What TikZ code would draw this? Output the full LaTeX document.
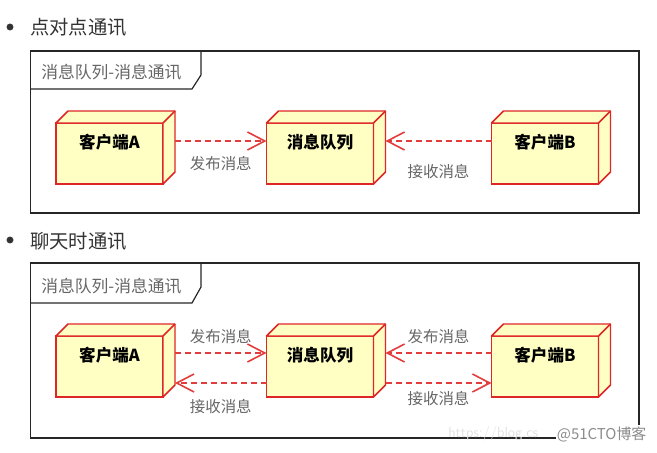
\documentclass[tikz,border=0pt]{standalone}
\usepackage{fontspec}
\newfontfamily\cjk{Noto Sans CJK SC}
\usetikzlibrary{arrows.meta,positioning,calc}
\definecolor{umlred}{RGB}{222,38,38}
\definecolor{umlyellow}{RGB}{255,255,196}
\definecolor{msgred}{RGB}{226,60,60}
\definecolor{msggray}{RGB}{102,102,102}
\definecolor{headgray}{RGB}{51,51,51}
\tikzset{
  nodebox/.style={draw=umlred, fill=umlyellow, line width=1.1pt, outer sep=0pt, inner sep=0pt,
    minimum width=80.25pt, minimum height=45.75pt, text height=7.5pt, text depth=15.5pt,
    font=\cjk\bfseries\fontsize{12.4}{14}\selectfont},
  msgarrow/.style={msgred, line width=1.2pt, dash pattern=on 4.5pt off 3pt,
    -{Straight Barb[length=13pt, width=13.5pt]}},
  msglabel/.style={font=\cjk\fontsize{11.6}{13}\selectfont, text=msggray, inner sep=0pt},
  heading/.style={font=\cjk\fontsize{14.5}{16}\selectfont, text=headgray, inner sep=0pt, anchor=west},
  bulletdot/.style={circle, fill=headgray, inner sep=0pt, minimum size=5.2pt},
  frameline/.style={draw=black!85, line width=0.9pt},
  tabtext/.style={font=\cjk\fontsize{12.6}{14}\selectfont, text=msggray, inner sep=0pt, anchor=west}
}
% back faces of a node box
\newcommand\nodedepth[1]{%
  \filldraw[draw=umlred, fill=umlyellow, line width=1.1pt, line join=round]
    (#1.north west) -- ++(12,-12) -- ([shift={(12,-12)}]#1.north east)
    -- ([shift={(12,-12)}]#1.south east) -- (#1.south east) -- (#1.north east) -- cycle;
  \draw[umlred, line width=1.1pt] (#1.north east) -- ++(12,-12);}

\begin{document}
\begin{tikzpicture}[x=0.75pt, y=-0.75pt]
  \useasboundingbox (0,0) rectangle (657,453);

  % Part 1: point to point
  \node[bulletdot] (d1) at (10,27) {};
  \node[heading] (h1) at (30,27) {点对点通讯};
  \draw[frameline] (30.5,51) rectangle (639,213);
  \draw[frameline] (30.5,89) -- (192,89) -- (201,75) -- (201,51);
  \node[tabtext] (t1) at (41,72) {消息队列-消息通讯};

  \node[nodebox] (ca1) at (109.5,153.5) {客户端A};
  \nodedepth{ca1}
  \node[nodebox] (mq1) at (320,153.5) {消息队列};
  \nodedepth{mq1}
  \node[nodebox] (cb1) at (545,153.5) {客户端B};
  \nodedepth{cb1}

  \draw[msgarrow] ([shift={(12,-12.5)}]ca1.east) -- node[msglabel, below=11pt] (p1) {发布消息} ([shift={(0,-12.5)}]mq1.west);
  \draw[msgarrow] ([shift={(0,-12.5)}]cb1.west) -- node[msglabel, below=17pt] (r1) {接收消息} ([shift={(12,-12.5)}]mq1.east);

  % Part 2: chat
  \node[bulletdot] (d2) at (10,240) {};
  \node[heading] (h2) at (30,241) {聊天时通讯};
  \draw[frameline] (30.5,263) rectangle (639,438);
  \draw[frameline] (30.5,303) -- (192,303) -- (201,287) -- (201,263);
  \node[tabtext] (t2) at (41,286) {消息队列-消息通讯};

  \node[nodebox] (ca2) at (109.5,366.5) {客户端A};
  \nodedepth{ca2}
  \node[nodebox] (mq2) at (320,366.5) {消息队列};
  \nodedepth{mq2}
  \node[nodebox] (cb2) at (545,366.5) {客户端B};
  \nodedepth{cb2}

  \draw[msgarrow] ([shift={(12,-13.5)}]ca2.east) -- node[msglabel, above=6.4pt] (p2) {发布消息} ([shift={(0,-13.5)}]mq2.west);
  \draw[msgarrow] ([shift={(0,16.5)}]mq2.west) -- node[msglabel, below=11.6pt] (r2) {接收消息} ([shift={(12,16.5)}]ca2.east);
  \draw[msgarrow] ([shift={(0,-13.5)}]cb2.west) -- node[msglabel, above=6.4pt] (p3) {发布消息} ([shift={(12,-13.5)}]mq2.east);
  \draw[msgarrow] ([shift={(12,16.5)}]mq2.east) -- node[msglabel, below=5.6pt] (r3) {接收消息} ([shift={(0,16.5)}]cb2.west);

  % watermark
  \node[font=\fontsize{11}{13}\selectfont\sffamily, text=black!12, inner sep=0pt, anchor=west] (wm1) at (448,434) {https://blog.cs};
  \node[font=\cjk\fontsize{11.2}{13}\selectfont, text=black!45, fill=white, inner sep=1pt, anchor=east] (wm2) at (648,434) {@51CTO博客};
\end{tikzpicture}
\end{document}
